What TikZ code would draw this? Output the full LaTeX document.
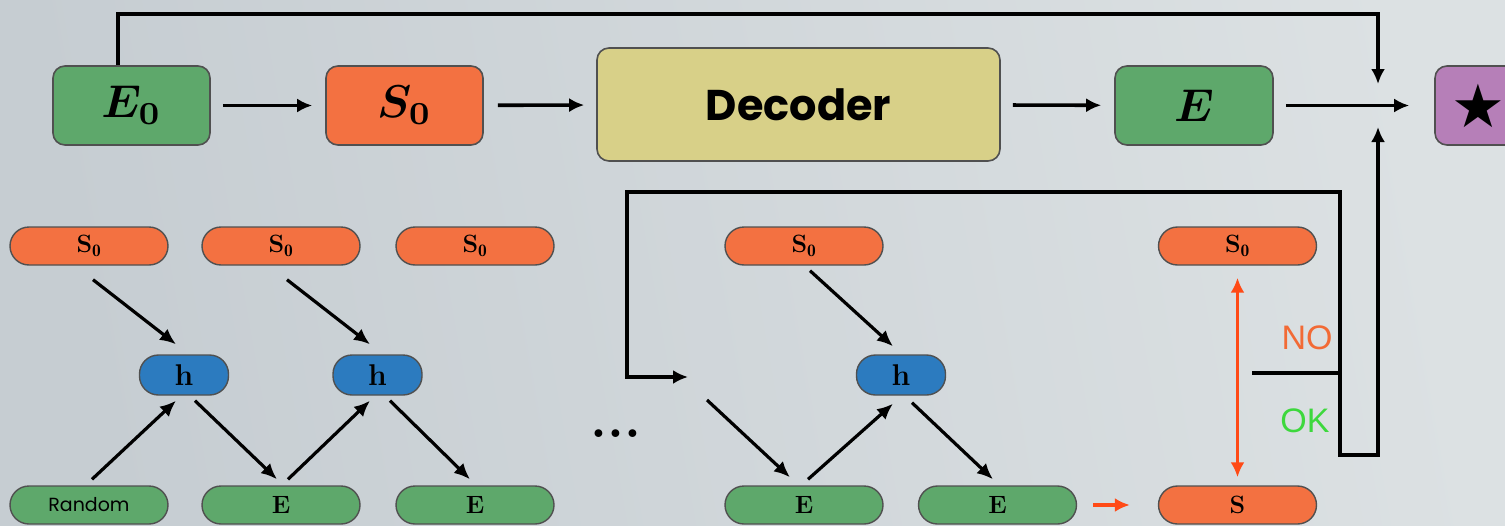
\documentclass[tikz,border=0pt]{standalone}
\usepackage{graphicx}
\usepackage{fontspec}
\usetikzlibrary{arrows.meta}
\newfontfamily\chalk{Poppins}
\newfontfamily\helv{Liberation Sans}
\newfontfamily\symb{DejaVu Sans}

\definecolor{bgA}{HTML}{C6CDD2}
\definecolor{bgB}{HTML}{DCE1E3}
\definecolor{cgreen}{HTML}{5EA86B}
\definecolor{corange}{HTML}{F37141}
\definecolor{cred}{HTML}{FF4A16}
\definecolor{cblue}{HTML}{2C7BBF}
\definecolor{cyellow}{HTML}{D8D088}
\definecolor{cpurple}{HTML}{B67FB8}
\definecolor{cborder}{HTML}{505050}
\definecolor{cno}{HTML}{F26A35}
\definecolor{cok}{HTML}{3DD83D}

\newcommand{\bigmath}[1]{\scalebox{4.6}{\boldmath$#1$}}

\tikzset{
  redtip/.tip={Latex[length=15pt,width=14pt]},
  bigbox/.style={draw=cborder, line width=1.6pt, rounded corners=12pt,
    minimum width=157pt, minimum height=79pt, inner sep=0pt},
  pill/.style={draw=cborder, line width=1.4pt, rounded corners=19pt,
    minimum width=158pt, minimum height=38pt, inner sep=0pt,
    font=\fontsize{25}{28}\selectfont\bfseries},
  hpill/.style={pill, fill=cblue, rounded corners=19pt,
    minimum width=89pt, minimum height=40pt,
    font=\fontsize{30}{32}\selectfont\bfseries},
  conn/.style={line width=3.6pt, draw=black},
  arr/.style={line width=3.6pt, -{Latex[length=15pt,width=14pt]}},
  thinarr/.style={line width=3.2pt, -{Latex[length=16pt,width=14pt]}},
  redarr/.style={line width=3.6pt, draw=cred, color=cred},
}

\begin{document}
\begin{tikzpicture}[x=1pt,y=-1pt]
  % backdrop
  \path[left color=bgA, right color=bgB, shading angle=100]
    (0,0) rectangle (1505,525);
  \useasboundingbox (0,0) rectangle (1505,525);

  % ---- top pipeline ----
  \node[bigbox, fill=cgreen] (E0) at (131.5,105.5) {\bigmath{E_0}};
  \node[bigbox, fill=corange] (S0) at (404.5,105.5) {\bigmath{S_0}};
  \node[bigbox, fill=cyellow, minimum width=403pt, minimum height=113pt,
        font=\fontsize{43}{45}\selectfont\chalk\bfseries] (dec) at (798.5,104.5) {Decoder};
  \node[bigbox, fill=cgreen, minimum width=158pt] (E) at (1194,105.5) {\bigmath{E}};
  \node[bigbox, fill=cpurple, minimum width=86pt, font=\fontsize{60}{62}\selectfont\symb]
    (star) at (1478,105.5) {★};

  \draw[arr, shorten <=12pt, shorten >=13pt] (E0) -- (S0);
  \draw[arr, shorten <=14pt, shorten >=12pt] (S0) -- (dec);
  \draw[arr, shorten <=12pt, shorten >=13pt] (dec) -- (E);
  \draw[arr, shorten <=12pt, shorten >=25pt] (E) -- (star);

  % junction in front of the result
  \coordinate (Jt) at (1378,84);
  \coordinate (Jb) at (1378,127);
  \coordinate (ctop) at (1378,14);
  \draw[arr] ([xshift=-13.5pt]E0.north) |- (ctop) -- (Jt);

  % ---- lower chain ----
  \node[pill, fill=corange] (s1) at (89,246)   {S$_{\mathbf 0}$};
  \node[pill, fill=corange] (s2) at (281,246)  {S$_{\mathbf 0}$};
  \node[pill, fill=corange] (s3) at (475,246)  {S$_{\mathbf 0}$};
  \node[pill, fill=corange] (s4) at (804,246)  {S$_{\mathbf 0}$};
  \node[pill, fill=corange] (s5) at (1237.5,246) {S$_{\mathbf 0}$};

  \node[hpill] (h1) at (184,375)   {h};
  \node[hpill] (h2) at (377.5,375) {h};
  \node[hpill] (h3) at (901,375)   {h};

  \node[pill, fill=cgreen, font=\fontsize{19}{20}\selectfont\chalk] (r) at (89,505) {Random};
  \node[pill, fill=cgreen] (e2) at (281,505)    {E};
  \node[pill, fill=cgreen] (e3) at (475,505)    {E};
  \node[pill, fill=cgreen] (e4) at (804,505)    {E};
  \node[pill, fill=cgreen] (e5) at (997.5,505)  {E};
  \node[pill, fill=corange] (s6) at (1237.5,505) {S};

  \node[font=\fontsize{54}{54}\selectfont\bfseries, inner sep=0pt] (dots) at (616,434) {...};

  \draw[thinarr] ([shift={(4,14)}]s1.south)   -- ([shift={(-8,-10)}]h1.north);
  \draw[thinarr] ([shift={(3,-6)}]r.north)    -- ([shift={(-8,5)}]h1.south);
  \draw[thinarr] ([shift={(11,5)}]h1.south)   -- ([shift={(-4,-6)}]e2.north);
  \draw[thinarr] ([shift={(7,-6)}]e2.north)   -- ([shift={(-7.5,5)}]h2.south);
  \draw[thinarr] ([shift={(6,14)}]s2.south)   -- ([shift={(-7.5,-10)}]h2.north);
  \draw[thinarr] ([shift={(12.5,5)}]h2.south) -- ([shift={(-5,-6)}]e3.north);

  \coordinate (din) at (707,400);
  \draw[thinarr] (din) -- ([shift={(-14,-8)}]e4.north);
  \draw[thinarr] ([shift={(4,-6)}]e4.north)   -- ([shift={(-8,8)}]h3.south);
  \draw[thinarr] ([shift={(6,5)}]s4.south)    -- ([shift={(-8,-8)}]h3.north);
  \draw[thinarr] ([shift={(11,7)}]h3.south)   -- ([shift={(-4.5,-6)}]e5.north);

  % comparison of S with S0
  \draw[redarr, {redtip}-{redtip}, shorten <=12pt, shorten >=8pt] (s5) -- (s6);
  \draw[redarr, -{redtip}, shorten <=16pt, shorten >=28pt] (e5) -- (s6);

  % decision branch
  \coordinate (branch) at (1252,373);
  \coordinate (split)  at (1340,373);
  \coordinate (cbot)   at (1378,455);
  \coordinate (cleft)  at (627,192);
  \coordinate (loopin) at (688,377);
  \draw[conn] (branch) -- (split);
  \draw[arr] (split) |- (cleft) |- (loopin);
  \draw[arr] (split) |- (cbot) -- (Jb);

  \node[font=\fontsize{34}{34}\selectfont\helv, text=cno] (no) at (1307,338) {NO};
  \node[font=\fontsize{34}{34}\selectfont\helv, text=cok] (ok) at (1305,421) {OK};
\end{tikzpicture}
\end{document}
